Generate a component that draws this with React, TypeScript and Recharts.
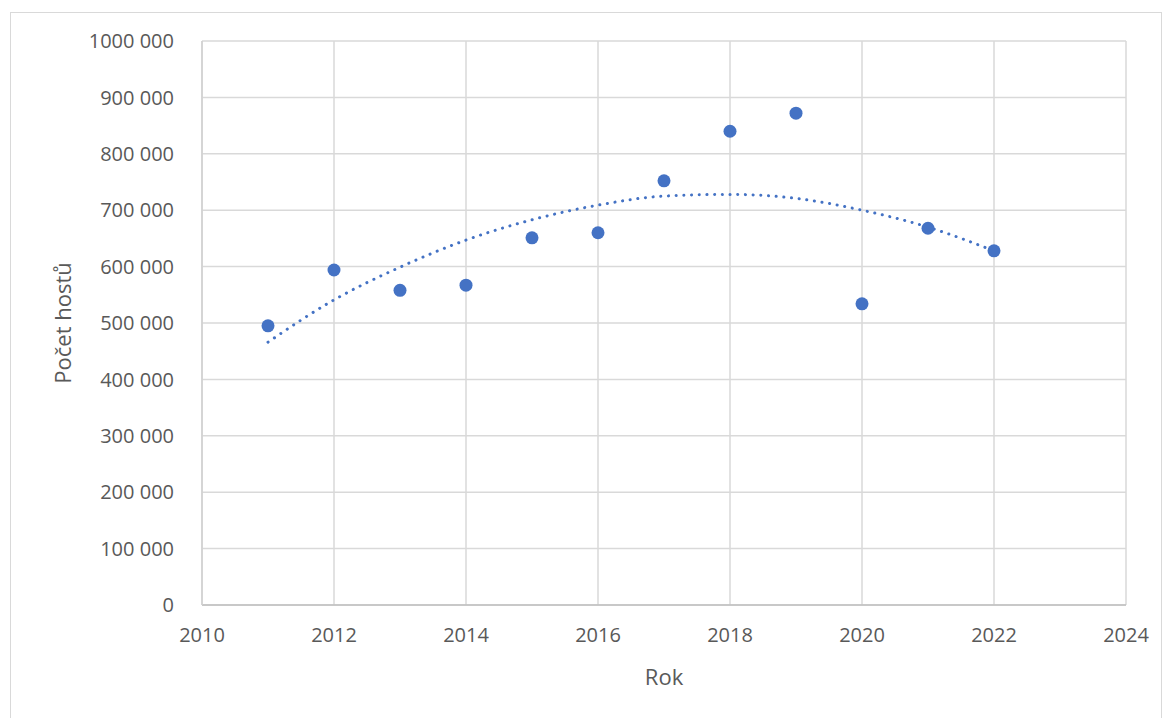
import React from 'react';
import {
  ComposedChart,
  Scatter,
  Line,
  XAxis,
  YAxis,
  CartesianGrid
} from 'recharts';

// values
const years = [2011, 2012, 2013, 2014, 2015, 2016, 2017, 2018, 2019, 2020, 2021, 2022];
const guests = [495000, 594000, 558000, 567000, 651000, 660000, 752000, 840000, 872000, 534000, 668000, 628000];
// polynomial trendline as drawn in the reference, read per year
const trend = [466000, 541000, 599000, 647000, 683000, 709000, 725000, 728000, 721000, 700000, 670000, 628000];

const xTicks = [2010, 2012, 2014, 2016, 2018, 2020, 2022, 2024];
const yTicks = [0, 100000, 200000, 300000, 400000, 500000, 600000, 700000, 800000, 900000, 1000000];
const yTickLabels = ['0', '100 000', '200 000', '300 000', '400 000', '500 000', '600 000', '700 000', '800 000', '900 000', '1000 000'];

const data = years.map((year, i) => ({ year, guests: guests[i], trend: trend[i] }));

const FONT = '"Open Sans", "Noto Sans", sans-serif';
const TEXT = '#595959';
const BLUE = '#4472C4';

export default function App() {
  return (
    <div style={{ position: 'absolute', left: 0, top: 0, width: 1171, height: 718, background: '#fff', fontFamily: FONT, overflow: 'hidden' }}>
      <div style={{ position: 'absolute', left: 10, top: 12, width: 1150, height: 720, border: '1px solid #d9d9d9' }} />
      <ComposedChart
        width={1171}
        height={718}
        data={data}
        margin={{ top: 41, right: 45, bottom: 0, left: 0 }}
        style={{ position: 'absolute', left: 0, top: 0 }}
      >
        <CartesianGrid stroke="#d9d9d9" strokeWidth={1.5} verticalPoints={undefined} />
        <XAxis
          dataKey="year"
          type="number"
          domain={[2010, 2024]}
          ticks={xTicks}
          height={113}
          tickLine={false}
          tickMargin={17}
          axisLine={{ stroke: '#bfbfbf', strokeWidth: 1.5 }}
          tick={{ fill: TEXT, fontSize: 20, fontFamily: FONT }}
        />
        <YAxis
          type="number"
          domain={[0, 1000000]}
          ticks={yTicks}
          width={202}
          tickLine={false}
          tickMargin={22}
          axisLine={{ stroke: '#d0d0d0', strokeWidth: 1.5 }}
          tickFormatter={(v: number) => yTickLabels[yTicks.indexOf(v)] ?? String(v)}
          tick={{ fill: TEXT, fontSize: 20, fontFamily: FONT }}
        />
        <Line
          dataKey="trend"
          type="monotone"
          stroke={BLUE}
          strokeWidth={3}
          strokeDasharray="0.1 7.6"
          strokeLinecap="round"
          dot={false}
          activeDot={false}
          isAnimationActive={false}
        />
        <Scatter
          dataKey="guests"
          fill={BLUE}
          shape={(p: any) => <circle cx={p.cx} cy={p.cy} r={6.5} fill={BLUE} />}
          isAnimationActive={false}
        />
      </ComposedChart>
      <div
        style={{
          position: 'absolute',
          left: 62,
          top: 323,
          transform: 'translate(-50%, -50%) rotate(-90deg)',
          color: TEXT,
          fontSize: 22,
          whiteSpace: 'nowrap'
        }}
      >
        Počet hostů
      </div>
      <div
        style={{
          position: 'absolute',
          left: 664,
          top: 676,
          transform: 'translate(-50%, -50%)',
          color: TEXT,
          fontSize: 22,
          whiteSpace: 'nowrap'
        }}
      >
        Rok
      </div>
    </div>
  );
}
